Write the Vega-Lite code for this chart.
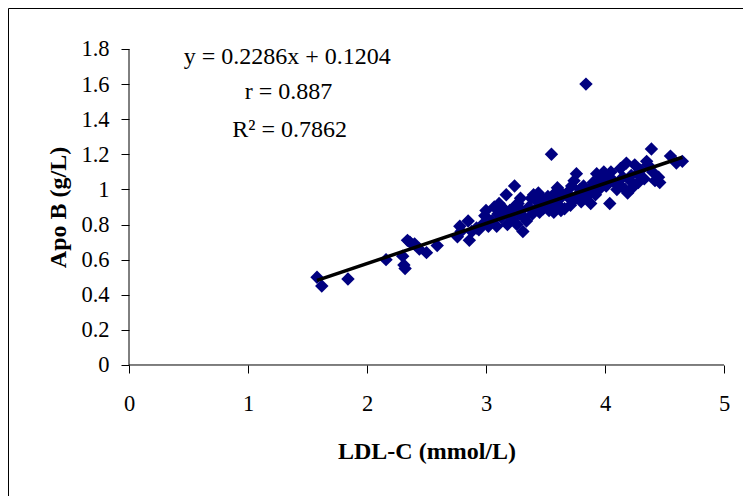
{
  "$schema": "https://vega.github.io/schema/vega-lite/v6.json",
  "width": 735,
  "height": 488,
  "padding": {"left": 8, "top": 8, "right": 0, "bottom": 0},
  "autosize": {"type": "none"},
  "background": "white",
  "config": {
    "view": {"stroke": "black", "strokeWidth": 1},
    "font": "Liberation Serif",
    "axis": {
      "grid": false,
      "domain": false,
      "tickColor": "black",
      "tickSize": 8,
      "tickWidth": 1,
      "labelColor": "black",
      "labelFont": "Liberation Serif",
      "labelFontSize": 22.5,
      "labelFlush": false,
      "labelOverlap": false,
      "titleColor": "black",
      "titleFont": "Liberation Serif",
      "titleFontSize": 24,
      "titleFontWeight": "bold"
    }
  },
  "datasets": {
    "pts": [
      {"ldl": 1.58, "apob": 0.50}, {"ldl": 1.62, "apob": 0.45}, {"ldl": 1.84, "apob": 0.49},
      {"ldl": 2.16, "apob": 0.60}, {"ldl": 2.30, "apob": 0.62}, {"ldl": 2.31, "apob": 0.57},
      {"ldl": 2.32, "apob": 0.55}, {"ldl": 2.34, "apob": 0.71}, {"ldl": 2.36, "apob": 0.70},
      {"ldl": 2.40, "apob": 0.69}, {"ldl": 2.44, "apob": 0.66}, {"ldl": 2.50, "apob": 0.64},
      {"ldl": 2.59, "apob": 0.68}, {"ldl": 2.76, "apob": 0.73}, {"ldl": 2.78, "apob": 0.79},
      {"ldl": 2.79, "apob": 0.76}, {"ldl": 2.85, "apob": 0.82}, {"ldl": 2.86, "apob": 0.71},
      {"ldl": 2.88, "apob": 0.76}, {"ldl": 2.92, "apob": 0.78}, {"ldl": 2.94, "apob": 0.77},
      {"ldl": 2.97, "apob": 0.80}, {"ldl": 2.99, "apob": 0.85}, {"ldl": 3.00, "apob": 0.88},
      {"ldl": 3.02, "apob": 0.79}, {"ldl": 3.05, "apob": 0.82}, {"ldl": 3.07, "apob": 0.90},
      {"ldl": 3.09, "apob": 0.79}, {"ldl": 3.10, "apob": 0.86}, {"ldl": 3.11, "apob": 0.92},
      {"ldl": 3.13, "apob": 0.84}, {"ldl": 3.15, "apob": 0.89}, {"ldl": 3.17, "apob": 0.97},
      {"ldl": 3.18, "apob": 0.80}, {"ldl": 3.19, "apob": 0.86}, {"ldl": 3.20, "apob": 0.88},
      {"ldl": 3.22, "apob": 0.83}, {"ldl": 3.24, "apob": 1.02}, {"ldl": 3.25, "apob": 0.91},
      {"ldl": 3.26, "apob": 0.80}, {"ldl": 3.27, "apob": 0.92}, {"ldl": 3.28, "apob": 0.86},
      {"ldl": 3.29, "apob": 0.95}, {"ldl": 3.30, "apob": 0.88}, {"ldl": 3.31, "apob": 0.76},
      {"ldl": 3.32, "apob": 0.84}, {"ldl": 3.34, "apob": 0.82}, {"ldl": 3.36, "apob": 0.90},
      {"ldl": 3.38, "apob": 0.95}, {"ldl": 3.39, "apob": 0.86}, {"ldl": 3.40, "apob": 0.97},
      {"ldl": 3.41, "apob": 0.88}, {"ldl": 3.43, "apob": 0.93}, {"ldl": 3.44, "apob": 0.98},
      {"ldl": 3.45, "apob": 0.87}, {"ldl": 3.47, "apob": 0.95}, {"ldl": 3.48, "apob": 0.89},
      {"ldl": 3.49, "apob": 0.90}, {"ldl": 3.50, "apob": 0.92}, {"ldl": 3.52, "apob": 0.96},
      {"ldl": 3.53, "apob": 0.88}, {"ldl": 3.55, "apob": 1.20}, {"ldl": 3.56, "apob": 0.93},
      {"ldl": 3.57, "apob": 0.87}, {"ldl": 3.58, "apob": 0.98}, {"ldl": 3.60, "apob": 1.01},
      {"ldl": 3.61, "apob": 0.91}, {"ldl": 3.62, "apob": 0.99}, {"ldl": 3.63, "apob": 0.88},
      {"ldl": 3.64, "apob": 0.96}, {"ldl": 3.66, "apob": 0.89}, {"ldl": 3.68, "apob": 0.98},
      {"ldl": 3.70, "apob": 0.95}, {"ldl": 3.71, "apob": 0.91}, {"ldl": 3.72, "apob": 1.02},
      {"ldl": 3.74, "apob": 1.05}, {"ldl": 3.74, "apob": 0.94}, {"ldl": 3.76, "apob": 1.09},
      {"ldl": 3.77, "apob": 0.97}, {"ldl": 3.79, "apob": 1.00}, {"ldl": 3.80, "apob": 0.93},
      {"ldl": 3.82, "apob": 1.02}, {"ldl": 3.83, "apob": 0.98}, {"ldl": 3.84, "apob": 1.60},
      {"ldl": 3.85, "apob": 0.96}, {"ldl": 3.87, "apob": 1.00}, {"ldl": 3.88, "apob": 0.92},
      {"ldl": 3.90, "apob": 1.04}, {"ldl": 3.92, "apob": 0.97}, {"ldl": 3.93, "apob": 1.09},
      {"ldl": 3.95, "apob": 1.00}, {"ldl": 3.97, "apob": 1.05}, {"ldl": 3.99, "apob": 1.10},
      {"ldl": 4.01, "apob": 1.02}, {"ldl": 4.02, "apob": 1.07}, {"ldl": 4.04, "apob": 0.92},
      {"ldl": 4.05, "apob": 1.10}, {"ldl": 4.07, "apob": 1.05}, {"ldl": 4.08, "apob": 1.04},
      {"ldl": 4.10, "apob": 1.00}, {"ldl": 4.12, "apob": 1.03}, {"ldl": 4.13, "apob": 1.12},
      {"ldl": 4.15, "apob": 1.07}, {"ldl": 4.17, "apob": 1.00}, {"ldl": 4.18, "apob": 1.15},
      {"ldl": 4.19, "apob": 0.98}, {"ldl": 4.21, "apob": 1.05}, {"ldl": 4.22, "apob": 1.08},
      {"ldl": 4.23, "apob": 1.01}, {"ldl": 4.25, "apob": 1.14}, {"ldl": 4.27, "apob": 1.09},
      {"ldl": 4.28, "apob": 1.04}, {"ldl": 4.30, "apob": 1.11}, {"ldl": 4.33, "apob": 1.06},
      {"ldl": 4.35, "apob": 1.16}, {"ldl": 4.36, "apob": 1.14}, {"ldl": 4.39, "apob": 1.23},
      {"ldl": 4.40, "apob": 1.10}, {"ldl": 4.42, "apob": 1.05}, {"ldl": 4.45, "apob": 1.07},
      {"ldl": 4.46, "apob": 1.04}, {"ldl": 4.55, "apob": 1.19}, {"ldl": 4.60, "apob": 1.15},
      {"ldl": 4.65, "apob": 1.16}
    ],
    "fit": [
      {"ldl": 1.58, "apob": 0.4816},
      {"ldl": 4.65, "apob": 1.1834}
    ],
    "ann": [
      {"ldl": 1.33, "apob": 1.754, "label": "y = 0.2286x + 0.1204"},
      {"ldl": 1.34, "apob": 1.555, "label": "r = 0.887"},
      {"ldl": 1.35, "apob": 1.34, "label": "R² = 0.7862"}
    ],
    "frame": [
      {"x": 0, "y": 0, "x2": 0, "y2": 1.8},
      {"x": 0, "y": 0, "x2": 5, "y2": 0}
    ]
  },
  "layer": [
    {
      "data": {"name": "frame"},
      "mark": {"type": "rule", "color": "black", "strokeWidth": 1},
      "encoding": {
        "x": {"field": "x", "type": "quantitative",
              "scale": {"domain": [-1.01681, 5.15966], "nice": false, "zero": false},
              "axis": {"values": [0, 1, 2, 3, 4, 5], "format": "d", "offset": -131,
                       "labelPadding": 19, "title": "LDL-C (mmol/L)",
                       "titleX": 418.5, "titleY": 86, "titleBaseline": "middle"}},
        "x2": {"field": "x2"},
        "y": {"field": "y", "type": "quantitative",
              "scale": {"domain": [-0.74621, 2.03354], "nice": false, "zero": false},
              "axis": {"values": [0, 0.2, 0.4, 0.6, 0.8, 1, 1.2, 1.4, 1.6, 1.8], "format": "~g",
                       "offset": -121, "labelPadding": 12, "title": "Apo B (g/L)",
                       "titleX": -71, "titleY": 199, "titleBaseline": "middle", "titleAngle": 270}},
        "y2": {"field": "y2"}
      }
    },
    {
      "data": {"name": "pts"},
      "mark": {"type": "point", "shape": "diamond", "filled": true, "color": "#000080", "opacity": 1, "size": 180},
      "encoding": {
        "x": {"field": "ldl", "type": "quantitative"},
        "y": {"field": "apob", "type": "quantitative"}
      }
    },
    {
      "data": {"name": "fit"},
      "mark": {"type": "line", "color": "black", "strokeWidth": 3.5},
      "encoding": {
        "x": {"field": "ldl", "type": "quantitative"},
        "y": {"field": "apob", "type": "quantitative"}
      }
    },
    {
      "data": {"name": "ann"},
      "mark": {"type": "text", "font": "Liberation Serif", "fontSize": 24, "color": "black", "align": "center", "baseline": "middle"},
      "encoding": {
        "x": {"field": "ldl", "type": "quantitative"},
        "y": {"field": "apob", "type": "quantitative"},
        "text": {"field": "label"}
      }
    }
  ]
}
